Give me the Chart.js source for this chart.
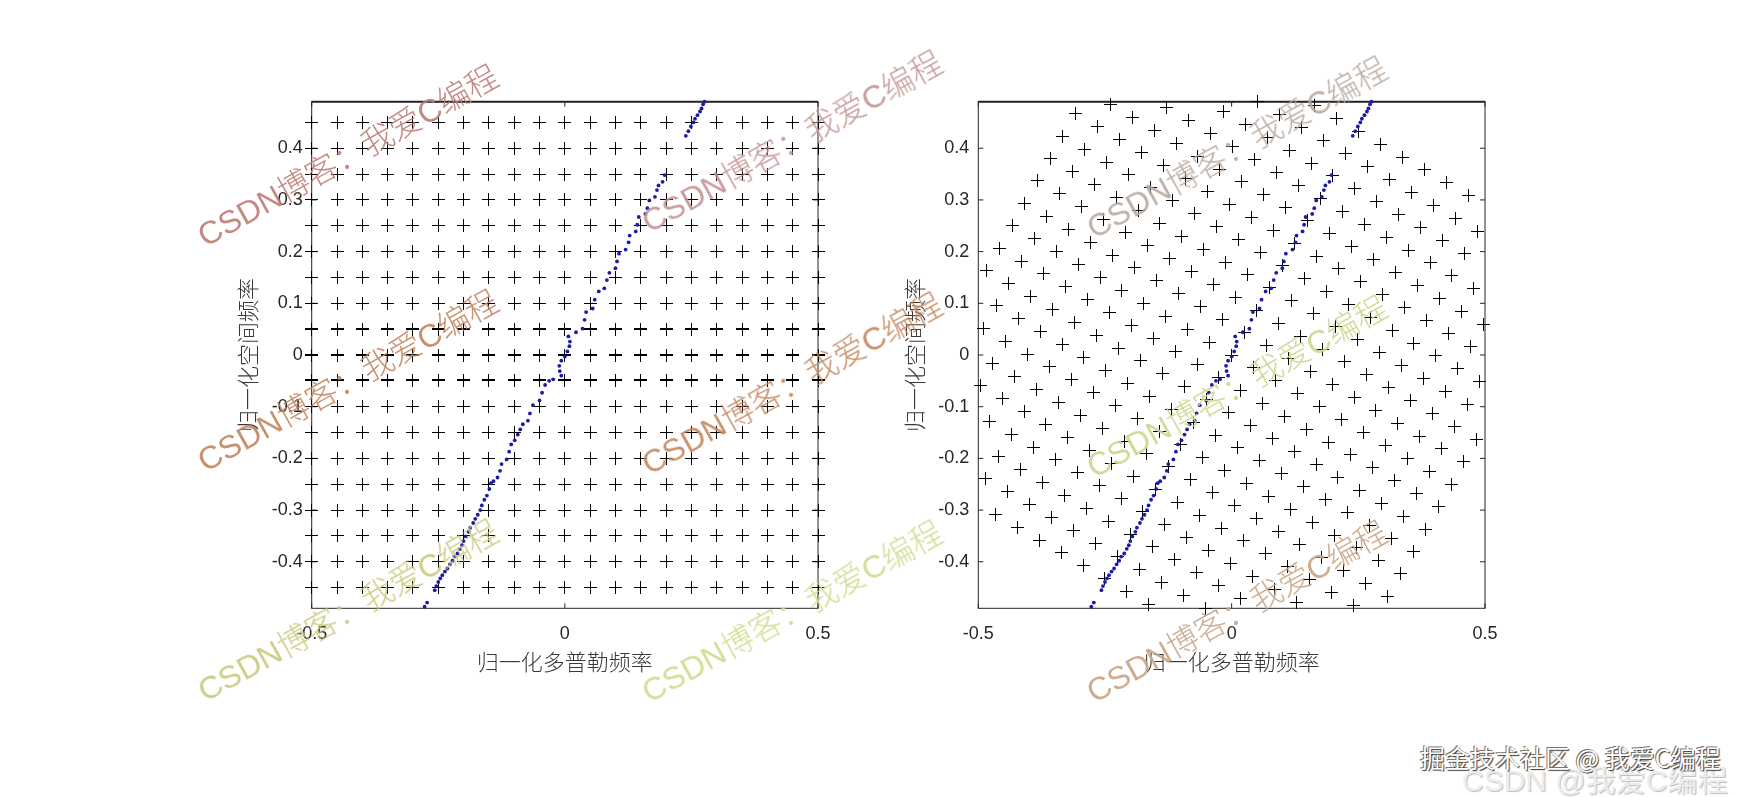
<!DOCTYPE html>
<html>
<head>
<meta charset="utf-8">
<title>归一化多普勒频率 - 归一化空间频率</title>
<script src="https://cdn.jsdelivr.net/npm/chart.js@4.4.1/dist/chart.umd.min.js"></script>
<style>
    html, body { margin: 0; padding: 0; background: #fff; }
    body { width: 1744px; height: 797px; position: relative; overflow: hidden; }
    canvas.plot { position: absolute; }
    .wm {
        position: absolute;
        white-space: nowrap;
        font-family: 'Liberation Sans', 'Noto Sans CJK SC', sans-serif;
        font-size: 32px;
        font-weight: 300;
        line-height: 1;
        transform: translate(-50%, -50%) rotate(-29deg);
        pointer-events: none;
        opacity: 0.9;
        z-index: 5;
    }
    .brand-back {
        position: absolute; left: 1462px; top: 766px;
        font: 30px/30px 'Liberation Sans', 'Noto Sans CJK SC', sans-serif;
        color: #ececec; text-shadow: 1px 1px 1px #bdbdbd;
        white-space: nowrap; z-index: 6;
    }
    .brand {
        position: absolute; left: 1420px; top: 745px;
        font: 25px/25px 'Noto Sans CJK SC', sans-serif;
        color: #fff; text-shadow: 1px 1px 1px #333, -1px -1px 0 #777;
        white-space: nowrap; z-index: 7;
    }
</style>
</head>
<body>
<canvas id="leftChart" class="plot" width="660" height="640" style="left:200px;top:60px;width:660px;height:640px"></canvas>
<canvas id="rightChart" class="plot" width="660" height="640" style="left:867px;top:60px;width:660px;height:640px"></canvas>
<div class="brand-back">CSDN @我爱C编程</div>
<div class="brand">掘金技术社区 @ 我爱C编程</div>
<script>
// 采样网格（两幅图共用），右图为同一网格顺时针旋转后的结果
const gridX = [-0.5, -0.45, -0.4, -0.35, -0.3, -0.25, -0.2, -0.15, -0.1, -0.05, 0,
               0.05, 0.1, 0.15, 0.2, 0.25, 0.3, 0.35, 0.4, 0.45, 0.5];
const gridY = [-0.5, -0.45, -0.4, -0.35, -0.3, -0.25, -0.2, -0.15, -0.1, -0.05, 0,
               0.05, 0.1, 0.15, 0.2, 0.25, 0.3, 0.35, 0.4, 0.45, 0.5];
const rotationDeg = 30;

// 蓝色点迹（两幅图相同）
const ridgeX = [-0.277, -0.272, -0.257, -0.254, -0.250, -0.246, -0.242, -0.237, -0.232, -0.227,
                -0.222, -0.218, -0.212, -0.207, -0.203, -0.200, -0.196, -0.190, -0.187, -0.181,
                -0.177, -0.172, -0.167, -0.164, -0.159, -0.154, -0.149, -0.146, -0.141, -0.133,
                -0.128, -0.125, -0.115, -0.110, -0.106, -0.099, -0.093, -0.088, -0.083, -0.073,
                -0.069, -0.063, -0.050, -0.045, -0.039, -0.031, -0.023, -0.007, -0.010, -0.011,
                -0.007, 0.000, 0.005, 0.009, 0.010, 0.007, 0.022, 0.035, 0.039, 0.042,
                0.055, 0.059, 0.067, 0.078, 0.083, 0.088, 0.100, 0.103, 0.107, 0.120,
                0.126, 0.128, 0.140, 0.143, 0.146, 0.159, 0.163, 0.167, 0.178, 0.182,
                0.185, 0.193, 0.197,
                0.239, 0.244, 0.249, 0.254, 0.257, 0.262, 0.267, 0.270, 0.273, 0.276];
const ridgeY = [-0.487, -0.479, -0.455, -0.447, -0.439, -0.432, -0.426, -0.419, -0.413, -0.405,
                -0.398, -0.390, -0.384, -0.375, -0.368, -0.360, -0.351, -0.342, -0.334, -0.325,
                -0.317, -0.309, -0.300, -0.291, -0.280, -0.272, -0.259, -0.248, -0.244, -0.237,
                -0.224, -0.211, -0.202, -0.187, -0.173, -0.165, -0.154, -0.144, -0.134, -0.127,
                -0.113, -0.097, -0.088, -0.073, -0.058, -0.050, -0.047, -0.040, -0.031, -0.021,
                -0.011, -0.003, 0.007, 0.017, 0.026, 0.036, 0.044, 0.051, 0.068, 0.083,
                0.090, 0.107, 0.123, 0.129, 0.145, 0.159, 0.168, 0.181, 0.196, 0.204,
                0.218, 0.231, 0.239, 0.252, 0.267, 0.273, 0.284, 0.299, 0.306, 0.319,
                0.328, 0.335, 0.348,
                0.424, 0.433, 0.442, 0.450, 0.457, 0.464, 0.471, 0.477, 0.485, 0.490];

const xTicks = [-0.5, 0, 0.5];
const yTicks = [-0.4, -0.3, -0.2, -0.1, 0, 0.1, 0.2, 0.3, 0.4];
const xRange = [-0.5, 0.5];
const yRange = [-0.49, 0.49];
const xLabel = '归一化多普勒频率';
const yLabel = '归一化空间频率';

const watermarkText = 'CSDN博客：我爱C编程';

// 网格点，超出坐标范围的点不画（与原图一致）
function gridPoints(angleDeg) {
    const t = angleDeg * Math.PI / 180;
    const c = Math.cos(t), s = Math.sin(t);
    const pts = [];
    gridY.forEach(gy => {
        gridX.forEach(gx => {
            const x = gx * c + gy * s;
            const y = -gx * s + gy * c;
            if (x >= xRange[0] - 1e-9 && x <= xRange[1] + 1e-9 &&
                y >= yRange[0] && y <= yRange[1]) {
                pts.push({ x, y });
            }
        });
    });
    return pts;
}

const ridgePoints = ridgeX.map((x, i) => ({ x, y: ridgeY[i] }));

// 像 MATLAB 那样不抗锯齿的 "+" 标记
function crossMarker(size, hWidth) {
    const c = document.createElement('canvas');
    c.width = size; c.height = size;
    const g = c.getContext('2d');
    const mid = Math.floor(size / 2);
    g.fillStyle = '#000';
    g.fillRect(0, mid - (hWidth > 1 ? 1 : 0), size, hWidth);
    g.fillRect(mid, 0, 1, size);
    return c;
}
const plusMark = crossMarker(13, 1);
const plusMarkBold = crossMarker(13, 2);

// 边框 + 向内的刻度线
const boxAxes = {
    id: 'boxAxes',
    beforeDatasetsDraw(chart) {
        const { ctx, chartArea: a, scales: { x, y } } = chart;
        ctx.save();
        ctx.strokeStyle = '#262626';
        ctx.lineWidth = 1;
        ctx.strokeRect(a.left, a.top, a.right - a.left, a.bottom - a.top);
        ctx.lineWidth = 2;
        ctx.beginPath();
        ctx.moveTo(a.left, a.top);
        ctx.lineTo(a.right, a.top);
        ctx.stroke();
        ctx.lineWidth = 1;
        ctx.beginPath();
        yTicks.forEach(v => {
            const p = y.getPixelForValue(v);
            ctx.moveTo(a.left, p); ctx.lineTo(a.left + 5, p);
            ctx.moveTo(a.right, p); ctx.lineTo(a.right - 5, p);
        });
        xTicks.forEach(v => {
            const p = x.getPixelForValue(v);
            ctx.moveTo(p, a.bottom); ctx.lineTo(p, a.bottom - 5);
            ctx.moveTo(p, a.top); ctx.lineTo(p, a.top + 5);
        });
        ctx.stroke();
        ctx.restore();
        ctx.imageSmoothingEnabled = false;
    },
    afterDatasetsDraw(chart) {
        chart.ctx.imageSmoothingEnabled = true;
    }
};

const tickFont = { family: "'Liberation Sans', Arial, sans-serif", size: 18 };
const titleFont = { family: "'Noto Sans CJK SC', sans-serif", size: 22, weight: '300' };
const fmt = v => String(Math.round(v * 10) / 10);

function makeChart(id, crossPoints, axisWidth, crossStyle) {
    return new Chart(document.getElementById(id), {
        type: 'scatter',
        data: {
            datasets: [
                {
                    data: ridgePoints,
                    pointStyle: 'circle',
                    pointRadius: 1.9,
                    backgroundColor: '#1b1ba6',
                    borderWidth: 0,
                    clip: false,
                    order: 1
                },
                {
                    data: crossPoints,
                    pointStyle: crossStyle,
                    pointRadius: 6.5,
                    borderColor: '#000',
                    borderWidth: 1,
                    clip: false,
                    order: 2
                }
            ]
        },
        options: {
            responsive: false,
            animation: false,
            events: [],
            layout: { padding: { left: 0, top: 41.7, right: 42, bottom: 0 } },
            plugins: { legend: { display: false }, tooltip: { enabled: false } },
            scales: {
                x: {
                    type: 'linear', min: xRange[0], max: xRange[1],
                    grid: { display: false, drawTicks: false },
                    border: { display: false },
                    afterBuildTicks: s => { s.ticks = xTicks.map(v => ({ value: v })); },
                    afterFit: s => { s.height = 91.7; },
                    ticks: { color: '#262626', font: tickFont, padding: 15, maxRotation: 0, autoSkip: false, callback: fmt },
                    title: { display: true, text: xLabel, color: '#383838', font: titleFont, padding: { top: 0, bottom: 25 } }
                },
                y: {
                    type: 'linear', min: yRange[0], max: yRange[1],
                    grid: { display: false, drawTicks: false },
                    border: { display: false },
                    afterBuildTicks: s => { s.ticks = yTicks.map(v => ({ value: v })); },
                    afterFit: s => { s.width = axisWidth; },
                    ticks: { color: '#262626', font: tickFont, padding: 9, autoSkip: false, callback: fmt },
                    title: { display: true, text: yLabel, color: '#383838', font: titleFont, padding: { top: 34, bottom: 0 } }
                }
            }
        },
        plugins: [boxAxes]
    });
}

// 左图中间三行在原图里显得更粗
makeChart('leftChart', gridPoints(0), 111.7,
          c => (c.raw && Math.abs(c.raw.y) < 0.06) ? plusMarkBold : plusMark);
makeChart('rightChart', gridPoints(rotationDeg), 111.3, plusMark);

// 水印
const marks = [
    { x: 348, y: 156, color: '#bf7d76' },
    { x: 348, y: 381, color: '#c38660' },
    { x: 348, y: 611, color: '#c8c87c' },
    { x: 792, y: 142, color: '#c39390' },
    { x: 792, y: 384, color: '#c4875e' },
    { x: 792, y: 612, color: '#d1da8c' },
    { x: 1237, y: 148, color: '#b8a89c' },
    { x: 1237, y: 387, color: '#cbd78c' },
    { x: 1237, y: 612, color: '#c9a586' }
];
marks.forEach(m => {
    const d = document.createElement('div');
    d.className = 'wm';
    d.textContent = watermarkText;
    d.style.left = m.x + 'px';
    d.style.top = m.y + 'px';
    d.style.color = m.color;
    document.body.appendChild(d);
});
</script>
</body>
</html>
